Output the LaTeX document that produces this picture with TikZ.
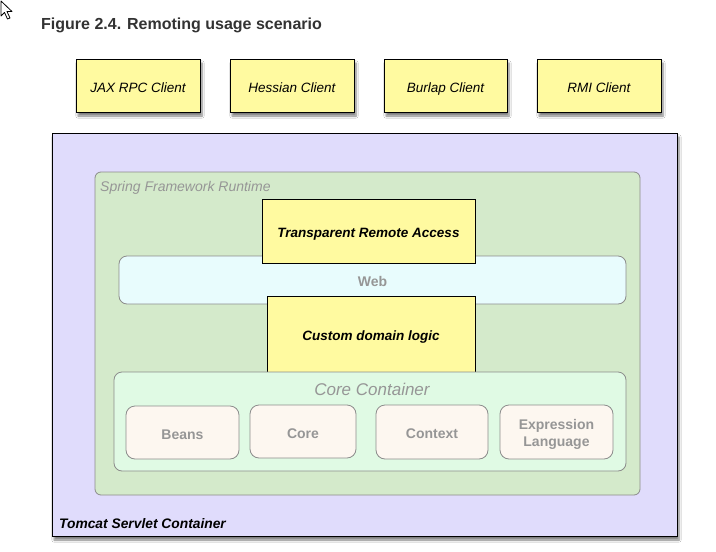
\documentclass[tikz,border=0pt]{standalone}
\usepackage{fontspec}
\setmainfont{Liberation Sans}
\usetikzlibrary{shadows.blur}
\definecolor{clientyellow}{RGB}{255,250,160}
\definecolor{tomcatfill}{RGB}{224,220,252}
\definecolor{springfill}{RGB}{212,234,203}
\definecolor{webfill}{RGB}{232,252,253}
\definecolor{corefill}{RGB}{224,250,228}
\definecolor{modfill}{RGB}{253,247,240}
\definecolor{graytext}{RGB}{150,150,150}
\definecolor{grayline}{RGB}{140,140,140}
\definecolor{titlecol}{RGB}{51,51,51}
\tikzset{
  shadowed/.style={blur shadow={shadow xshift=2pt, shadow yshift=-4pt, shadow blur steps=6, shadow opacity=50}},
  lowtext/.style={text height=13.5pt, text depth=0pt},
  client/.style={draw=black, line width=1pt, fill=clientyellow, inner sep=0pt, lowtext,
    font=\fontsize{13.5}{16}\selectfont\itshape, shadowed},
  yellowbox/.style={draw=black, line width=1pt, fill=clientyellow, inner sep=0pt, text height=12.5pt, text depth=0pt,
    font=\fontsize{13.5}{16}\selectfont\bfseries\itshape},
  layer/.style={draw=grayline, line width=0.8pt, rounded corners=8pt, inner sep=0pt},
  module/.style={draw=grayline, line width=0.8pt, rounded corners=9pt, fill=modfill, inner sep=0pt,
    text=graytext, font=\fontsize{14}{17}\selectfont\bfseries},
}
\begin{document}
\begin{tikzpicture}[x=1pt, y=-1pt]
\useasboundingbox (0,0) rectangle (716,552);
\fill[white] (0,0) rectangle (716,552);
% mouse pointer
\draw[fill=white, line width=0.8pt, line join=round] (1,1) -- (1,16) -- (4.5,12.5) -- (7.5,19) -- (10,18) -- (7,11.5) -- (12,11.5) -- cycle;
% title
\node[anchor=base west, inner sep=0pt, text=titlecol, font=\fontsize{16}{19}\selectfont\bfseries] (title) at (41,29) {Figure 2.4. Remoting usage scenario};
% clients
\node[client, minimum width=124, minimum height=53] (jax) at (138,85.5) {JAX RPC Client};
\node[client, minimum width=124, minimum height=53] (hessian) at (292,85.5) {Hessian Client};
\node[client, minimum width=123, minimum height=53] (burlap) at (445.5,85.5) {Burlap Client};
\node[client, minimum width=124, minimum height=53] (rmi) at (599,85.5) {RMI Client};
% tomcat
\node[draw=black, line width=1pt, fill=tomcatfill, shadowed, minimum width=625, minimum height=403, inner sep=0pt] (tomcat) at (364.5,334.5) {};
\node[anchor=base west, inner sep=0pt, font=\fontsize{13.8}{16}\selectfont\bfseries\itshape] (tomcatlabel) at (59,528) {Tomcat Servlet Container};
% spring runtime
\node[layer, rounded corners=6pt, fill=springfill, minimum width=545, minimum height=323] (spring) at (367.5,333.5) {};
\node[anchor=base west, inner sep=0pt, text=graytext, font=\fontsize{14}{16}\selectfont\itshape] (springlabel) at (100,191) {Spring Framework Runtime};
% web
\node[layer, fill=webfill, minimum width=507, minimum height=48, lowtext, text=graytext, font=\fontsize{14}{16}\selectfont\bfseries] (web) at (372.5,280) {Web};
% yellow boxes
\node[yellowbox, minimum width=213, minimum height=64] (tra) at (368.5,231) {Transparent Remote Access};
\node[yellowbox, minimum width=208, minimum height=76] (cdl) at (371,334) {Custom domain logic};
% core container
\node[layer, fill=corefill, minimum width=512, minimum height=99] (corecont) at (370,421.5) {};
\node[anchor=base, inner sep=0pt, text=graytext, font=\fontsize{17}{20}\selectfont\itshape] (corelabel) at (372,395.5) {Core Container};
\node[module, lowtext, minimum width=113, minimum height=53] (beans) at (182.5,432.5) {Beans};
\node[module, lowtext, minimum width=106, minimum height=53] (core) at (303,431.5) {Core};
\node[module, lowtext, minimum width=112, minimum height=54] (context) at (432,432) {Context};
\node[module, minimum width=113, minimum height=54] (expr) at (556.5,432) {};
\node[inner sep=0pt, align=center, text=graytext, font=\fontsize{14}{17}\selectfont\bfseries, yshift=-2.5pt] (exprtext) at (expr.center) {Expression\\Language};
\end{tikzpicture}
\end{document}
